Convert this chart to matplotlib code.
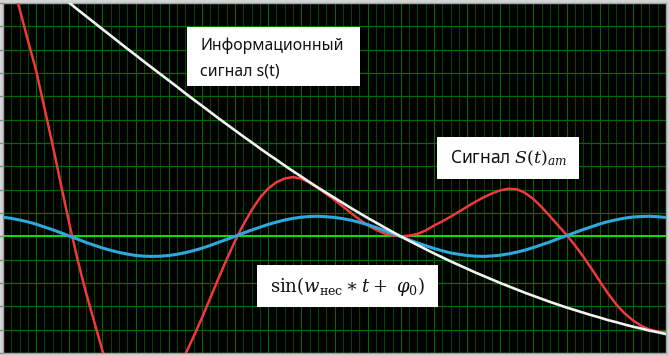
import numpy as np
import matplotlib
matplotlib.use("Agg")
import matplotlib.pyplot as plt
from matplotlib.patches import Rectangle

plt.rcParams['font.family'] = ['Noto Sans', 'DejaVu Sans']
plt.rcParams['mathtext.fontset'] = 'dejavuserif'

# sample positions (grid cells along the time axis)
t = list(range(0, 81))

# informational signal s(t) (white)
s_info = [12.28, 12.00, 11.71, 11.43, 11.14, 10.86, 10.57, 10.29, 10.01, 9.72,
          9.44, 9.16, 8.88, 8.60, 8.32, 8.04, 7.77, 7.49, 7.22, 6.95,
          6.68, 6.41, 6.13, 5.86, 5.60, 5.33, 5.06, 4.80, 4.54, 4.28,
          4.03, 3.77, 3.52, 3.28, 3.03, 2.79, 2.56, 2.32, 2.09, 1.87,
          1.65, 1.43, 1.21, 1.00, 0.79, 0.59, 0.39, 0.19, 0.00, -0.19,
          -0.37, -0.55, -0.73, -0.90, -1.07, -1.23, -1.39, -1.55, -1.70, -1.85,
          -2.00, -2.14, -2.28, -2.42, -2.55, -2.68, -2.81, -2.93, -3.05, -3.16,
          -3.27, -3.38, -3.48, -3.59, -3.68, -3.78, -3.87, -3.95, -4.04, -4.11,
          -4.19]

# carrier sin(w*t + phi0) (blue)
carrier = [0.82, 0.77, 0.70, 0.62, 0.52, 0.40, 0.28, 0.15, 0.01, -0.12,
           -0.26, -0.38, -0.50, -0.60, -0.69, -0.76, -0.82, -0.85, -0.86, -0.85,
           -0.82, -0.77, -0.70, -0.61, -0.51, -0.39, -0.26, -0.13, 0.00, 0.14,
           0.27, 0.39, 0.51, 0.61, 0.70, 0.77, 0.82, 0.85, 0.86, 0.84,
           0.81, 0.76, 0.69, 0.60, 0.50, 0.38, 0.25, 0.12, -0.01, -0.15,
           -0.28, -0.40, -0.52, -0.62, -0.71, -0.77, -0.82, -0.85, -0.86, -0.84,
           -0.81, -0.75, -0.68, -0.59, -0.48, -0.36, -0.24, -0.10, 0.03, 0.16,
           0.29, 0.41, 0.53, 0.63, 0.71, 0.78, 0.83, 0.85, 0.86, 0.84,
           0.81]

# AM signal S(t)_am (red)
s_am = [12.2, 11.0, 9.75, 8.4, 7.1, 5.5, 3.9, 2.2, 0.55, -1.0,
        -2.4, -3.65, -4.9, -5.9, -6.6, -7.15, -7.4, -7.42, -7.2, -6.87,
        -6.3, -5.7, -5.05, -4.3, -3.5, -2.65, -1.8, -0.98, -0.2, 0.5,
        1.12, 1.65, 2.05, 2.32, 2.48, 2.54, 2.47, 2.30, 2.07, 1.82,
        1.56, 1.28, 1.00, 0.72, 0.48, 0.28, 0.13, 0.04, 0.0, 0.03,
        0.10, 0.25, 0.46, 0.64, 0.84, 1.05, 1.27, 1.48, 1.67, 1.84,
        1.97, 2.04, 2.02, 1.86, 1.60, 1.25, 0.86, 0.46, 0.06, -0.38,
        -0.86, -1.38, -1.92, -2.45, -2.92, -3.30, -3.60, -3.83, -3.99, -4.08,
        -4.12]

fig = plt.figure(figsize=(6.69, 3.56), dpi=100, facecolor="#d4d4d4")
ax = fig.add_axes([3 / 669, 3 / 356, 663 / 669, 350 / 356])
ax.set_facecolor("black")
ax.set_xlim(0, 80)
ax.set_ylim(-5, 10)

# grid
ax.set_xticks(np.arange(0, 81, 4))
ax.set_xticks(np.arange(0, 81, 1), minor=True)
ax.set_yticks(np.arange(-5, 11, 1))
ax.grid(which="major", axis="x", color="#006c00", linewidth=0.8)
ax.grid(which="minor", axis="x", color="#004600", linewidth=0.8)
ax.grid(which="major", axis="y", color="#006a00", linewidth=0.9)
ax.set_axisbelow(True)
ax.tick_params(axis="x", which="both", length=0, labelbottom=False)
ax.tick_params(axis="y", length=3, width=1, color="#8a8a8a", direction="out", labelleft=False)
for sp in ax.spines.values():
    sp.set_color("#a0a0a0")
    sp.set_linewidth(1.0)

ax.axhline(0, color="#10e010", linewidth=1.4, zorder=2)

ax.plot(t, s_am, color="#f03a3a", linewidth=1.8, zorder=3)
ax.plot(t, carrier, color="#2fa8e0", linewidth=2.2, zorder=4)
ax.plot(t, s_info, color="#f2f2f2", linewidth=1.9, zorder=5)


def px(x, y):
    # pixel position in the picture -> data units
    return (x - 3) / 8.2875, (236 - y) / 23.333


def box(x0, y0, x1, y1):
    a = px(x0, y1)
    b = px(x1, y0)
    ax.add_patch(Rectangle(a, b[0] - a[0], b[1] - a[1], facecolor="white",
                           edgecolor="none", zorder=6))


box(187, 27, 360, 86)
box(437, 137, 579, 179)
box(257, 265, 438, 307)

ax.text(*px(200, 50), "Информационный", fontsize=11.4, color="#111111", va="baseline", zorder=7)
ax.text(*px(200, 75), "сигнал s(t)", fontsize=11.4, color="#111111", va="baseline", zorder=7)
ax.text(*px(450, 163), r"Сигнал $S(t)_{am}$", fontsize=12.5, color="#111111", va="baseline", zorder=7)
ax.text(*px(270, 292), r"$\sin(w_{\mathrm{нес}} \ast t +\ \varphi_0)$", fontsize=13,
        color="#111111", va="baseline", zorder=7)

fig.savefig("out.png", dpi=100, facecolor=fig.get_facecolor())
